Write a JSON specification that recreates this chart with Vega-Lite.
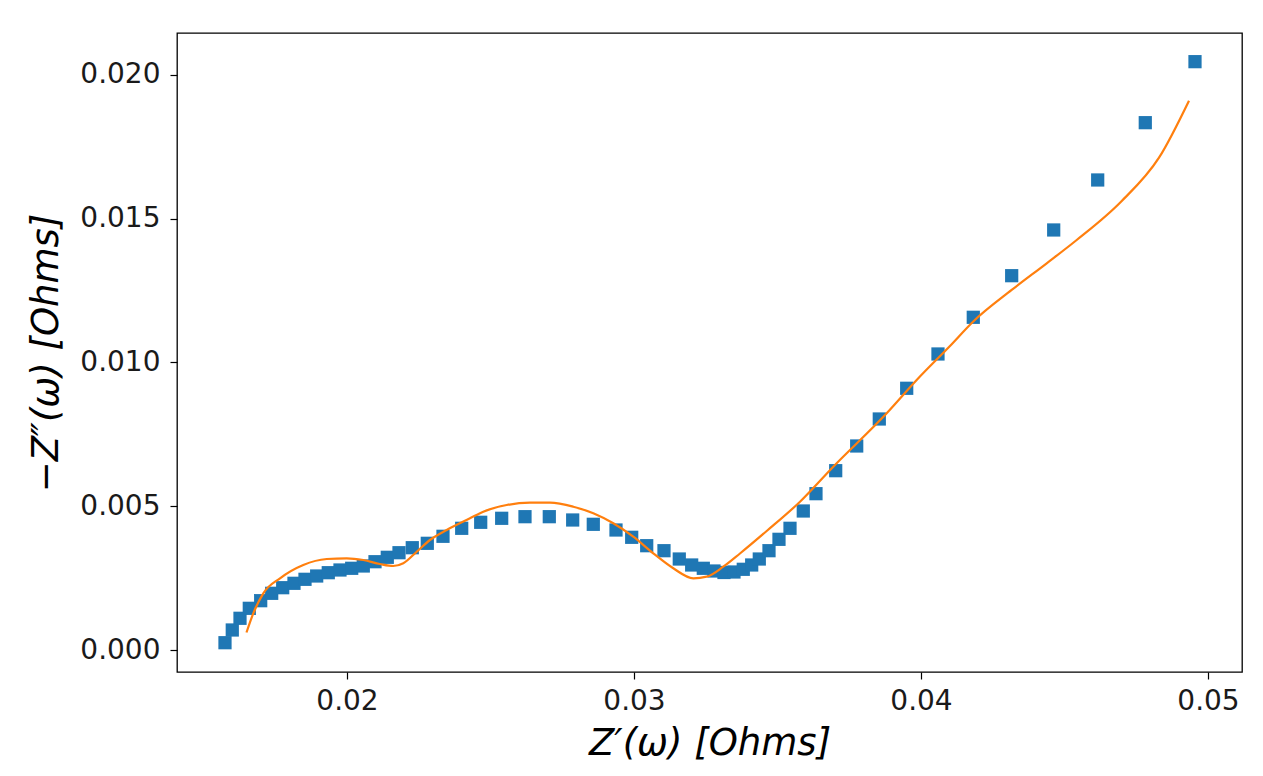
{
  "$schema": "https://vega.github.io/schema/vega-lite/v6.json",
  "width": 1065,
  "height": 639,
  "autosize": {"type": "none"},
  "padding": {"left": 177, "top": 33, "right": 21, "bottom": 104},
  "background": "white",
  "config": {
    "view": {"stroke": "#000", "strokeWidth": 1.3},
    "font": "DejaVu Sans",
    "axis": {
      "grid": false,
      "domain": false,
      "tickColor": "#000",
      "tickWidth": 1.2,
      "tickSize": 7,
      "labelFont": "DejaVu Sans",
      "labelFontSize": 28,
      "labelColor": "#1a1a1a",
      "titleFont": "DejaVu Sans",
      "titleFontStyle": "italic",
      "titleFontWeight": "normal",
      "titleFontSize": 37,
      "titleColor": "#000"
    }
  },
  "datasets": {
    "measured": [
      {"zr": 0.015749, "zi": 0.000254},
      {"zr": 0.016003, "zi": 0.000696},
      {"zr": 0.016272, "zi": 0.001103},
      {"zr": 0.016596, "zi": 0.00145},
      {"zr": 0.016993, "zi": 0.001715},
      {"zr": 0.017376, "zi": 0.001972},
      {"zr": 0.01776, "zi": 0.002167},
      {"zr": 0.018153, "zi": 0.00232},
      {"zr": 0.018537, "zi": 0.002459},
      {"zr": 0.018944, "zi": 0.002574},
      {"zr": 0.019348, "zi": 0.002689},
      {"zr": 0.019756, "zi": 0.002783},
      {"zr": 0.020164, "zi": 0.002842},
      {"zr": 0.020568, "zi": 0.002922},
      {"zr": 0.020976, "zi": 0.003071},
      {"zr": 0.021404, "zi": 0.003224},
      {"zr": 0.021812, "zi": 0.003384},
      {"zr": 0.022275, "zi": 0.003558},
      {"zr": 0.022798, "zi": 0.003711},
      {"zr": 0.023345, "zi": 0.003955},
      {"zr": 0.023997, "zi": 0.004233},
      {"zr": 0.024659, "zi": 0.004442},
      {"zr": 0.02539, "zi": 0.004581},
      {"zr": 0.026202, "zi": 0.004637},
      {"zr": 0.027049, "zi": 0.004637},
      {"zr": 0.027864, "zi": 0.004522},
      {"zr": 0.028582, "zi": 0.004372},
      {"zr": 0.029373, "zi": 0.004174},
      {"zr": 0.02992, "zi": 0.00392},
      {"zr": 0.030443, "zi": 0.003628},
      {"zr": 0.031045, "zi": 0.003454},
      {"zr": 0.031578, "zi": 0.003165},
      {"zr": 0.03201, "zi": 0.002957},
      {"zr": 0.032415, "zi": 0.002842},
      {"zr": 0.032787, "zi": 0.002748},
      {"zr": 0.033136, "zi": 0.002696},
      {"zr": 0.033484, "zi": 0.002713},
      {"zr": 0.033808, "zi": 0.002807},
      {"zr": 0.034101, "zi": 0.002957},
      {"zr": 0.034366, "zi": 0.003165},
      {"zr": 0.034704, "zi": 0.003454},
      {"zr": 0.035052, "zi": 0.00385},
      {"zr": 0.035436, "zi": 0.004233},
      {"zr": 0.035899, "zi": 0.004835},
      {"zr": 0.036341, "zi": 0.005437},
      {"zr": 0.037028, "zi": 0.006237},
      {"zr": 0.03776, "zi": 0.007096},
      {"zr": 0.038547, "zi": 0.008035},
      {"zr": 0.039502, "zi": 0.009103},
      {"zr": 0.040592, "zi": 0.010296},
      {"zr": 0.041822, "zi": 0.011572},
      {"zr": 0.04316, "zi": 0.013019},
      {"zr": 0.044624, "zi": 0.014609},
      {"zr": 0.046157, "zi": 0.016348},
      {"zr": 0.047815, "zi": 0.018341},
      {"zr": 0.049547, "zi": 0.020463}
    ],
    "fit": [
      {"zr": 0.016498, "zi": 0.000609},
      {"zr": 0.016735, "zi": 0.001277},
      {"zr": 0.017084, "zi": 0.001972},
      {"zr": 0.017666, "zi": 0.002494},
      {"zr": 0.018477, "zi": 0.002957},
      {"zr": 0.019293, "zi": 0.003165},
      {"zr": 0.01999, "zi": 0.00319},
      {"zr": 0.020568, "zi": 0.00313},
      {"zr": 0.02115, "zi": 0.002991},
      {"zr": 0.021613, "zi": 0.002922},
      {"zr": 0.021962, "zi": 0.003016},
      {"zr": 0.022429, "zi": 0.003419},
      {"zr": 0.022892, "zi": 0.003826},
      {"zr": 0.023474, "zi": 0.004174},
      {"zr": 0.024286, "zi": 0.004581},
      {"zr": 0.024749, "zi": 0.00481},
      {"zr": 0.025564, "zi": 0.005043},
      {"zr": 0.026376, "zi": 0.005123},
      {"zr": 0.027073, "zi": 0.005123},
      {"zr": 0.027885, "zi": 0.004984},
      {"zr": 0.028582, "zi": 0.004755},
      {"zr": 0.029279, "zi": 0.004407},
      {"zr": 0.029976, "zi": 0.003941},
      {"zr": 0.030672, "zi": 0.003363},
      {"zr": 0.031369, "zi": 0.002842},
      {"zr": 0.032066, "zi": 0.002494},
      {"zr": 0.032533, "zi": 0.00255},
      {"zr": 0.033111, "zi": 0.002897},
      {"zr": 0.033693, "zi": 0.003357},
      {"zr": 0.034624, "zi": 0.004139},
      {"zr": 0.035784, "zi": 0.005158},
      {"zr": 0.036944, "zi": 0.006376},
      {"zr": 0.038805, "zi": 0.008233},
      {"zr": 0.03985, "zi": 0.009391},
      {"zr": 0.04101, "zi": 0.010574},
      {"zr": 0.041822, "zi": 0.011426},
      {"zr": 0.04316, "zi": 0.012522},
      {"zr": 0.04438, "zi": 0.01345},
      {"zr": 0.045425, "zi": 0.014261},
      {"zr": 0.046969, "zi": 0.015593},
      {"zr": 0.048293, "zi": 0.017123},
      {"zr": 0.049338, "zi": 0.019106}
    ]
  },
  "encoding": {
    "x": {
      "field": "zr",
      "type": "quantitative",
      "scale": {"domain": [0.014077, 0.051185], "nice": false, "zero": false},
      "axis": {
        "title": "Z′(ω) [Ohms]",
        "values": [0.02, 0.03, 0.04, 0.05],
        "format": ".2f",
        "labelPadding": 8,
        "titlePadding": 10
      }
    },
    "y": {
      "field": "zi",
      "type": "quantitative",
      "scale": {"domain": [-0.000765, 0.02146], "nice": false, "zero": false},
      "axis": {
        "title": "−Z″(ω) [Ohms]",
        "values": [0, 0.005, 0.01, 0.015, 0.02],
        "format": ".3f",
        "labelPadding": 10,
        "titlePadding": 14
      }
    }
  },
  "layer": [
    {
      "data": {"name": "measured"},
      "mark": {"type": "point", "shape": "square", "filled": true, "size": 175, "color": "#1f77b4", "opacity": 1}
    },
    {
      "data": {"name": "fit"},
      "mark": {"type": "line", "color": "#ff7f0e", "strokeWidth": 2.2, "interpolate": "monotone"}
    }
  ]
}
